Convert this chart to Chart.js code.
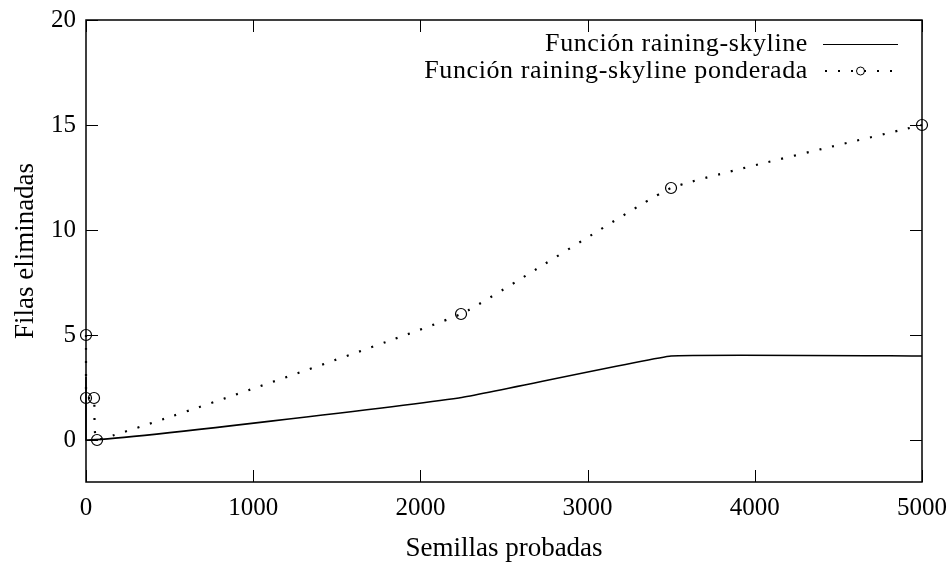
<!DOCTYPE html>
<html>
<head>
<meta charset="utf-8">
<script src="https://cdn.jsdelivr.net/npm/chart.js@4"></script>
<style>
  html, body { margin: 0; padding: 0; background: #fff; }
  #wrap { width: 952px; height: 563px; }
</style>
</head>
<body>
<div id="wrap"><canvas id="chart" width="952" height="563"></canvas></div>
<script>
const seedsPlain = [0, 0, 2230, 3499, 5000];
const rowsPlain = [3, 0, 2, 4, 4];

const seedsWeighted = [0, 0, 48, 66, 2243, 3499, 5000];
const rowsWeighted = [5, 2, 2, 0, 6, 12, 15];

const xTickValues = [0, 1000, 2000, 3000, 4000, 5000];
const yTickValues = [0, 5, 10, 15, 20];

const labelPlain = 'Función raining-skyline';
const labelWeighted = 'Función raining-skyline ponderada';

const fontFamily = '"Liberation Serif", serif';
Chart.defaults.font.family = fontFamily;
Chart.defaults.color = '#000';

const toPoints = (xs, ys) => xs.map((x, i) => ({ x: x, y: ys[i] }));

// gnuplot style: inner ticks on all four sides, frame, legend at top right
const gnuplotFrame = {
  id: 'gnuplotFrame',
  afterDatasetsDraw(chart) {
    const ctx = chart.ctx;
    const a = chart.chartArea;
    const xs = chart.scales.x, ys = chart.scales.y;
    ctx.save();
    ctx.strokeStyle = '#000';
    ctx.lineWidth = 1;
    ctx.beginPath();
    xTickValues.forEach(v => {
      const px = Math.round(xs.getPixelForValue(v)) + 0.5;
      ctx.moveTo(px, a.bottom); ctx.lineTo(px, a.bottom - 12);
      ctx.moveTo(px, a.top); ctx.lineTo(px, a.top + 12);
    });
    yTickValues.forEach(v => {
      const py = Math.round(ys.getPixelForValue(v)) + 0.5;
      ctx.moveTo(a.left, py); ctx.lineTo(a.left + 12, py);
      ctx.moveTo(a.right, py); ctx.lineTo(a.right - 12, py);
    });
    ctx.stroke();
    ctx.lineWidth = 1.5;
    ctx.strokeRect(a.left, a.top, a.right - a.left, a.bottom - a.top);

    // legend
    ctx.font = '26px ' + fontFamily;
    ctx.letterSpacing = '0.6px';
    ctx.fillStyle = '#000';
    ctx.textAlign = 'right';
    ctx.textBaseline = 'middle';
    const textX = a.right - 114;
    const sx0 = a.right - 99, sx1 = a.right - 24;
    const y1 = a.top + 24, y2 = a.top + 51;
    ctx.fillText(labelPlain, textX, y1);
    ctx.fillText(labelWeighted, textX, y2);
    ctx.lineWidth = 1;
    ctx.beginPath();
    ctx.moveTo(sx0, y1 + 0.5); ctx.lineTo(sx1, y1 + 0.5);
    ctx.stroke();
    ctx.lineWidth = 2;
    ctx.setLineDash([2, 11]);
    ctx.beginPath();
    ctx.moveTo(sx0 + 2, y2); ctx.lineTo(sx1, y2);
    ctx.stroke();
    ctx.setLineDash([]);
    ctx.lineWidth = 1;
    ctx.beginPath();
    ctx.arc((sx0 + sx1) / 2, y2, 4, 0, Math.PI * 2);
    ctx.stroke();
    ctx.restore();
  }
};

new Chart(document.getElementById('chart'), {
  type: 'line',
  data: {
    datasets: [{
      label: labelPlain,
      data: toPoints(seedsPlain, rowsPlain),
      borderColor: '#000',
      borderWidth: 1.6,
      pointRadius: 0,
      tension: 0.08,
      fill: false
    }, {
      label: labelWeighted,
      data: toPoints(seedsWeighted, rowsWeighted),
      borderColor: '#000',
      borderWidth: 2.2,
      borderDash: [2, 11],
      pointRadius: 5.5,
      pointBorderWidth: 1.2,
      pointBackgroundColor: 'rgba(0,0,0,0)',
      pointBorderColor: '#000',
      tension: 0.1,
      fill: false
    }]
  },
  options: {
    responsive: false,
    animation: false,
    clip: false,
    layout: { padding: { left: 0, right: 30, top: 20, bottom: 0 } },
    plugins: { legend: { display: false }, tooltip: { enabled: false } },
    scales: {
      x: {
        type: 'linear',
        min: 0, max: 5000,
        afterBuildTicks: s => { s.ticks = xTickValues.map(v => ({ value: v })); },
        afterFit: s => { s.height = 81; s.paddingLeft = 0; s.paddingRight = 0; },
        grid: { display: false, drawTicks: false },
        border: { display: false },
        ticks: { font: { size: 25 }, padding: 11, maxRotation: 0, callback: v => String(v) },
        title: { display: true, text: 'Semillas probadas', font: { size: 27 }, padding: { top: 12, bottom: -2 } }
      },
      y: {
        type: 'linear',
        min: -2, max: 20,
        afterBuildTicks: s => { s.ticks = yTickValues.map(v => ({ value: v })); },
        afterFit: s => { s.width = 86; s.paddingTop = 0; s.paddingBottom = 0; },
        grid: { display: false, drawTicks: false },
        border: { display: false },
        ticks: { font: { size: 25 }, padding: 10, callback: v => String(v) },
        title: { display: true, text: 'Filas eliminadas', font: { size: 27 }, padding: { top: 10, bottom: 4 } }
      }
    }
  },
  plugins: [gnuplotFrame]
});
</script>
</body>
</html>
